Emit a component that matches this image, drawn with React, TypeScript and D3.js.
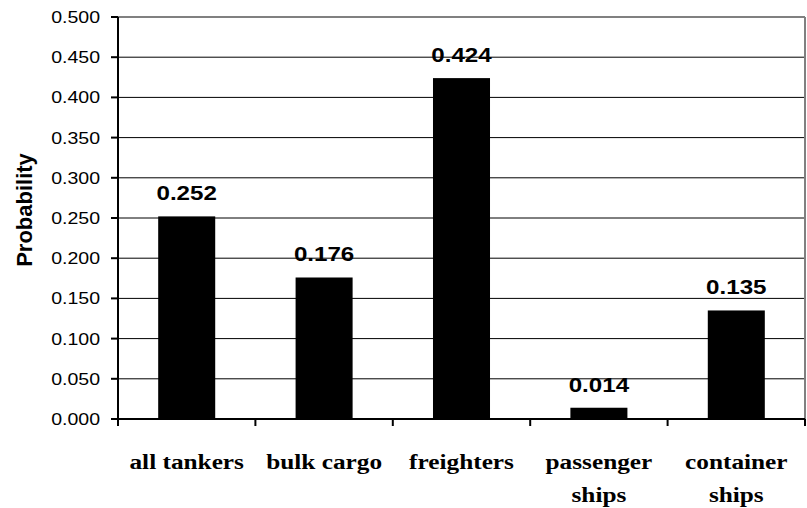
import React from "react";
import * as d3 from "d3";

const categories: string[][] = [
  ["all tankers"],
  ["bulk cargo"],
  ["freighters"],
  ["passenger", "ships"],
  ["container", "ships"],
];
const values: number[] = [0.252, 0.176, 0.424, 0.014, 0.135];
const yTicks: number[] = [0, 0.05, 0.1, 0.15, 0.2, 0.25, 0.3, 0.35, 0.4, 0.45, 0.5];

const W = 807;
const H = 508;
const left = 118;
const right = 805;
const top = 17;
const bottom = 419;
const SX = 1.15; // horizontal glyph stretch

const sans = "'Liberation Sans', Arial, sans-serif";
const serif = "'Liberation Serif', 'Times New Roman', serif";

export default function App() {
  const x = d3
    .scaleBand<number>()
    .domain(values.map((_, i) => i))
    .range([left, right])
    .paddingInner(0.585)
    .paddingOuter(0.2925);
  const y = d3.scaleLinear().domain([0, 0.5]).range([bottom, top]);
  const step = (right - left) / categories.length;
  const fmt = d3.format(".3f");
  const cx = (i: number) => (x(i) as number) + x.bandwidth() / 2;

  return (
    <svg
      width={W}
      height={H}
      style={{ position: "absolute", left: 0, top: 0, background: "#fff" }}
    >
      {/* gridlines */}
      {yTicks.slice(1, -1).map((t) => (
        <line key={t} x1={left} x2={right} y1={y(t)} y2={y(t)} stroke="#000" strokeWidth={1} />
      ))}
      {/* plot frame top and right */}
      <line x1={left} x2={right} y1={y(0.5)} y2={y(0.5)} stroke="#808080" strokeWidth={2} />
      <line x1={right} x2={right} y1={y(0.5)} y2={bottom} stroke="#808080" strokeWidth={2} />

      {/* bars */}
      {values.map((v, i) => (
        <rect key={i} x={x(i)} y={y(v)} width={x.bandwidth()} height={bottom - y(v)} fill="#000" />
      ))}

      {/* value labels */}
      {values.map((v, i) => (
        <text
          key={i}
          transform={`translate(${cx(i)}, ${y(v) - 16}) scale(${SX}, 1)`}
          textAnchor="middle"
          fontFamily={sans}
          fontWeight="bold"
          fontSize={21}
        >
          {fmt(v)}
        </text>
      ))}

      {/* y axis */}
      <line x1={left} x2={left} y1={top} y2={bottom + 1} stroke="#000" strokeWidth={2} />
      {yTicks.map((t) => (
        <g key={t}>
          <line x1={left - 7} x2={left} y1={y(t)} y2={y(t)} stroke="#000" strokeWidth={2} />
          <text
            transform={`translate(${left - 18}, ${y(t)}) scale(${SX}, 1)`}
            dy="0.35em"
            textAnchor="end"
            fontFamily={sans}
            fontSize={17}
          >
            {fmt(t)}
          </text>
        </g>
      ))}

      {/* x axis */}
      <line x1={left - 1} x2={right} y1={bottom} y2={bottom} stroke="#000" strokeWidth={2} />
      {d3.range(categories.length + 1).map((k) => (
        <line
          key={k}
          x1={left + k * step}
          x2={left + k * step}
          y1={bottom}
          y2={bottom + 7}
          stroke="#000"
          strokeWidth={2}
        />
      ))}
      {categories.map((lines, i) => (
        <text
          key={i}
          transform={`translate(${cx(i)}, 469) scale(${SX}, 1)`}
          textAnchor="middle"
          fontFamily={serif}
          fontWeight="bold"
          fontSize={22}
        >
          {lines.map((l, j) => (
            <tspan key={j} x={0} dy={j === 0 ? 0 : 33}>
              {l}
            </tspan>
          ))}
        </text>
      ))}

      {/* y axis title */}
      <text
        transform={`translate(32, 210) rotate(-90)`}
        textAnchor="middle"
        fontFamily={sans}
        fontWeight="bold"
        fontSize={22}
      >
        Probability
      </text>
    </svg>
  );
}
